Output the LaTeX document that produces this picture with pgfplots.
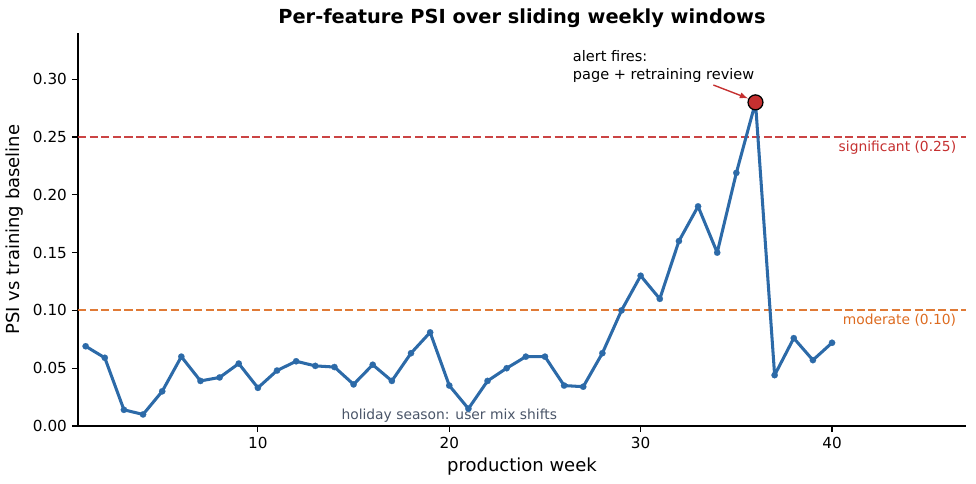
\documentclass[border=0pt]{standalone}
\usepackage{fontspec}
\setmainfont{DejaVu Sans}
\usepackage{pgfplots}
\pgfplotsset{compat=1.18}
\usepackage{pgfplotstable}

\definecolor{psiblue}{HTML}{2C6AA8}
\definecolor{sigred}{HTML}{C53030}
\definecolor{modorange}{HTML}{DD6B20}
\definecolor{notegray}{HTML}{4A5568}

% weekly PSI values
\pgfplotstableread{
week psi
1  0.069
2  0.059
3  0.014
4  0.010
5  0.030
6  0.060
7  0.039
8  0.042
9  0.054
10 0.033
11 0.048
12 0.056
13 0.052
14 0.051
15 0.036
16 0.053
17 0.039
18 0.063
19 0.081
20 0.035
21 0.015
22 0.039
23 0.050
24 0.060
25 0.060
26 0.035
27 0.034
28 0.063
29 0.100
30 0.130
31 0.110
32 0.160
33 0.190
34 0.150
35 0.219
36 0.280
37 0.044
38 0.076
39 0.057
40 0.072
}\psidata

\begin{document}
\begin{tikzpicture}
\begin{axis}[
    scale only axis,
    width=8.88in, height=3.93in,
    xmin=0.6, xmax=47,
    ymin=0, ymax=0.34,
    axis lines=left,
    axis line style={-, line width=0.8pt},
    tick align=outside,
    major tick length=4.5pt,
    tick style={black, line width=0.8pt},
    xtick={10,20,30,40},
    ytick={0,0.05,0.10,0.15,0.20,0.25,0.30},
    yticklabel style={/pgf/number format/.cd, fixed, fixed zerofill, precision=2},
    /pgf/number format/assume math mode=true,
    ticklabel style={font=\fontsize{11}{13}\selectfont},
    title={\bfseries Per-feature PSI over sliding weekly windows},
    title style={font=\fontsize{14}{17}\selectfont, yshift=-5.5pt},
    xlabel={production week},
    ylabel={PSI vs training baseline},
    label style={font=\fontsize{13}{15}\selectfont},
    clip=false,
]
% threshold lines
\addplot[sigred, line width=1.5pt, dash pattern=on 5.8pt off 2.6pt, opacity=0.9]
    coordinates {(0.6,0.25)(47,0.25)};
\addplot[modorange, line width=1.5pt, dash pattern=on 5.8pt off 2.6pt, opacity=0.9]
    coordinates {(0.6,0.10)(47,0.10)};

\addplot[psiblue, line width=2.2pt, line join=round, line cap=round,
    mark=*, mark size=2.3pt,
    mark options={fill=psiblue, draw=psiblue, line width=0.1pt}]
    table[x=week, y=psi] {\psidata};

% alert point
\addplot[only marks, mark=*, mark size=5.4pt,
    mark options={fill=sigred, draw=black, line width=0.9pt}]
    coordinates {(36,0.280)};

\draw[sigred, line width=1pt, -latex] (axis cs:33.8,0.295) -- (axis cs:35.6,0.2835);

\node[anchor=south west, inner sep=0pt, align=left,
      font=\fontsize{10.5}{12.6}\selectfont]
    at (axis cs:26.45,0.297) {alert fires:\\page + retraining review};

\node[anchor=north east, inner sep=0pt, text=sigred, font=\fontsize{10}{12}\selectfont]
    at (axis cs:46.5,0.247) {significant (0.25)};
\node[anchor=north east, inner sep=0pt, text=modorange, font=\fontsize{10}{12}\selectfont]
    at (axis cs:46.5,0.097) {moderate (0.10)};
\node[anchor=south, inner sep=0pt, text=notegray, font=\fontsize{10}{12}\selectfont]
    at (axis cs:20,0.003) {holiday season: user mix shifts};
\end{axis}
\path ([shift={(-0.78in,-0.58in)}]current axis.south west)
    rectangle ([shift={(0.10in,0.33in)}]current axis.north east);
\end{tikzpicture}
\end{document}
